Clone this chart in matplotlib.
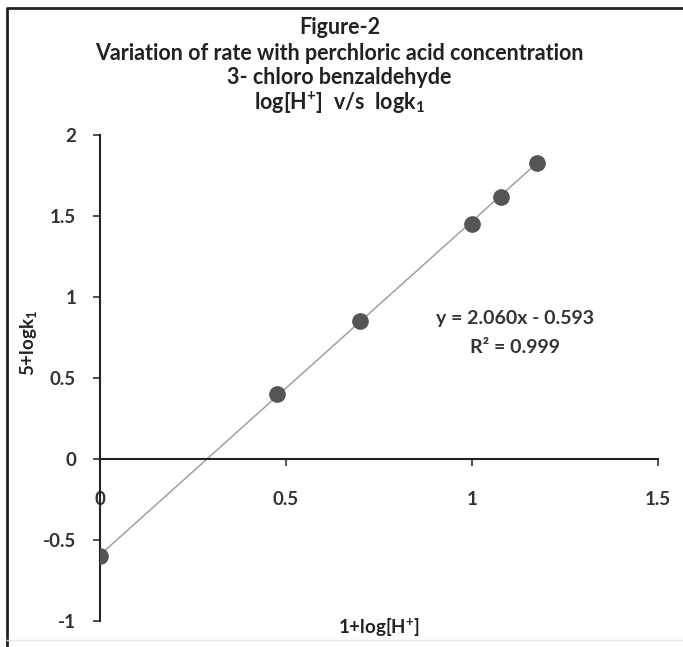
import numpy as np
import matplotlib
matplotlib.use("Agg")
import matplotlib.pyplot as plt
from matplotlib.lines import Line2D

# data
log_h = [0.0, 0.477, 0.699, 1.0, 1.079, 1.176]
log_k = [-0.60, 0.40, 0.85, 1.45, 1.62, 1.83]
x_ticks = [0, 0.5, 1, 1.5]
x_tick_labels = ["0", "0.5", "1", "1.5"]
y_ticks = [-1, -0.5, 0, 0.5, 1, 1.5, 2]
y_tick_labels = ["-1", "-0.5", "0", "0.5", "1", "1.5", "2"]
slope, intercept = 2.060, -0.593

plt.rcParams['font.family'] = ['Lato', 'DejaVu Sans']
plt.rcParams['mathtext.fontset'] = 'custom'
plt.rcParams['mathtext.bf'] = 'Lato:bold'
plt.rcParams['mathtext.rm'] = 'Lato:bold'
plt.rcParams['mathtext.default'] = 'bf'

fig = plt.figure(figsize=(6.83, 6.47), dpi=100)
ax = fig.add_axes([0.146, 0.040, 0.817, 0.751])

# linear trend line from first to last point
xl = np.array([log_h[0], log_h[-1]])
ax.plot(xl, slope * xl + intercept, color='#a0a0a0', lw=1.1, zorder=2)
ax.plot(log_h, log_k, 'o', color='#555555', markersize=11, zorder=3)

ax.set_xlim(0, 1.5)
ax.set_ylim(-1, 2)
for s in ['top', 'right']:
    ax.spines[s].set_visible(False)
ax.spines['left'].set_position(('data', 0))
ax.spines['bottom'].set_position(('data', 0))
for s in ['left', 'bottom']:
    ax.spines[s].set_color('#222222')
    ax.spines[s].set_linewidth(1.5)

ax.set_xticks(x_ticks)
ax.set_xticklabels(x_tick_labels, fontweight='bold')
ax.set_yticks(y_ticks)
ax.set_yticklabels(y_tick_labels, fontweight='bold')
ax.tick_params(axis='x', direction='out', length=5, width=1.3, color='#444444',
               pad=18, labelsize=13.5, labelcolor='#333333')
ax.tick_params(axis='y', direction='out', length=5, width=1.3, color='#444444',
               pad=12, labelsize=13.5, labelcolor='#333333')

ax.text(0.745, 0.623, "y = 2.060x - 0.593", transform=ax.transAxes, ha='center',
        va='center', fontsize=14, fontweight='bold', color='#333333')
ax.text(0.745, 0.564, "R² = 0.999", transform=ax.transAxes, ha='center',
        va='center', fontsize=14, fontweight='bold', color='#333333')

# titles
title_lines = ["Figure-2",
               "Variation of rate with perchloric acid concentration",
               "3- chloro benzaldehyde",
               "log[H$^{+}$]  v/s  logk$_{1}$"]
for i, t in enumerate(title_lines):
    fig.text(0.497, 1 - (28 + 25 * i) / 647, t, ha='center', va='center',
             fontsize=15.5, fontweight='bold', color='#222222')

fig.text(0.555, 1 - 628 / 647, "1+log[H$^{+}$]", ha='center', va='center',
         fontsize=13.5, fontweight='bold', color='#222222')
fig.text(0.041, 1 - 343 / 647, "5+logk$_{1}$", ha='center', va='center',
         rotation=90, fontsize=13.5, fontweight='bold', color='#222222')

# outer frame (left and top edges visible)
fig.add_artist(Line2D([7 / 683, 7 / 683, 1.0], [0.0, 1 - 8 / 647, 1 - 8 / 647],
                      transform=fig.transFigure, color='#222222', lw=2))
fig.add_artist(Line2D([7 / 683, 1.0], [1 - 640 / 647, 1 - 640 / 647],
                      transform=fig.transFigure, color='#e6e6e6', lw=1))

fig.savefig("out.png", dpi=100)
